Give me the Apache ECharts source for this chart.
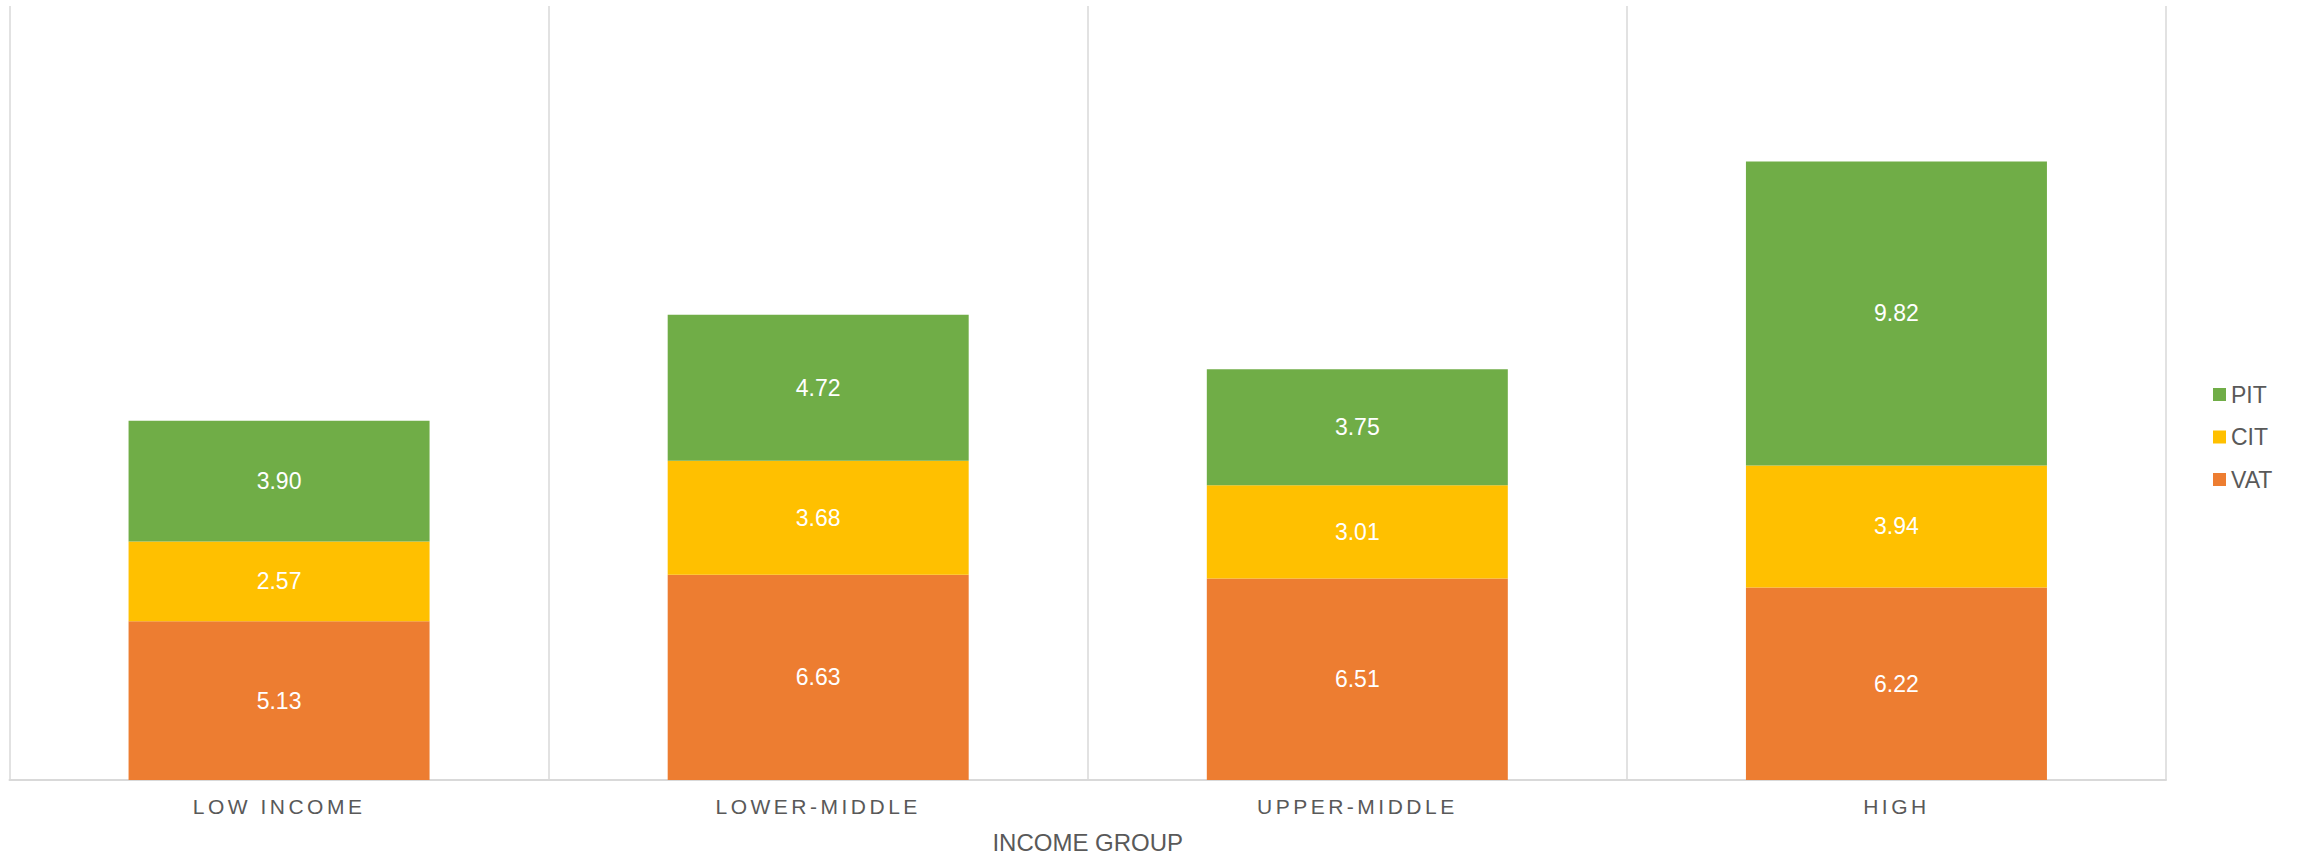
<!DOCTYPE html>
<html>
<head>
<meta charset="utf-8">
<script src="https://cdn.jsdelivr.net/npm/echarts@6/dist/echarts.min.js"></script>
<style>
html,body{margin:0;padding:0;background:#fff;}
#chart{width:2300px;height:859px;}
</style>
</head>
<body>
<div id="chart"></div>
<script>
const categories = ['LOW INCOME', 'LOWER-MIDDLE', 'UPPER-MIDDLE', 'HIGH'];
const vatValues = [5.13, 6.63, 6.51, 6.22];
const citValues = [2.57, 3.68, 3.01, 3.94];
const pitValues = [3.90, 4.72, 3.75, 9.82];
const axisName = 'INCOME GROUP';

const FONT = 'Liberation Sans, Arial, sans-serif';
const chart = echarts.init(document.getElementById('chart'), null, {renderer: 'svg'});

const labelCfg = {
  show: true,
  position: 'inside',
  color: '#ffffff',
  fontSize: 23,
  fontFamily: FONT,
  formatter: p => Number(p.value).toFixed(2)
};

chart.setOption({
  animation: false,
  backgroundColor: '#ffffff',
  grid: {left: 9.5, right: 134, top: 6, bottom: 74, containLabel: false},
  legend: {
    orient: 'vertical',
    left: 2208,
    top: 378,
    itemWidth: 13,
    itemHeight: 13,
    itemGap: 19.5,
    icon: 'rect',
    data: ['PIT', 'CIT', 'VAT'],
    textStyle: {color: '#595959', fontSize: 23, fontFamily: FONT, lineHeight: 23}
  },
  xAxis: {
    type: 'category',
    data: categories,
    axisLine: {show: true, lineStyle: {color: '#d9d9d9', width: 2}},
    axisTick: {show: false},
    splitLine: {show: true, lineStyle: {color: '#d9d9d9', width: 1.5}},
    axisLabel: {color: '#595959', fontSize: 21, fontFamily: FONT, margin: 16},
    name: axisName,
    nameLocation: 'middle',
    nameGap: 50,
    nameTextStyle: {color: '#595959', fontSize: 24, fontFamily: FONT}
  },
  yAxis: {
    type: 'value',
    min: 0,
    max: 25,
    interval: 5,
    show: false,
    splitLine: {show: false}
  },
  series: [
    {name: 'VAT', type: 'bar', stack: 'tax', data: vatValues, barWidth: 301, itemStyle: {color: '#ED7D31'}, label: labelCfg},
    {name: 'CIT', type: 'bar', stack: 'tax', data: citValues, barWidth: 301, itemStyle: {color: '#FFC000'}, label: labelCfg},
    {name: 'PIT', type: 'bar', stack: 'tax', data: pitValues, barWidth: 301, itemStyle: {color: '#70AD47'}, label: labelCfg}
  ]
});

function spaceLabels() {
  const texts = document.querySelectorAll('#chart svg text');
  texts.forEach(t => {
    if (categories.indexOf(t.textContent) >= 0) {
      t.setAttribute('letter-spacing', '3.5');
    }
  });
}
spaceLabels();
chart.on('finished', spaceLabels);
setTimeout(spaceLabels, 50);
</script>
</body>
</html>
